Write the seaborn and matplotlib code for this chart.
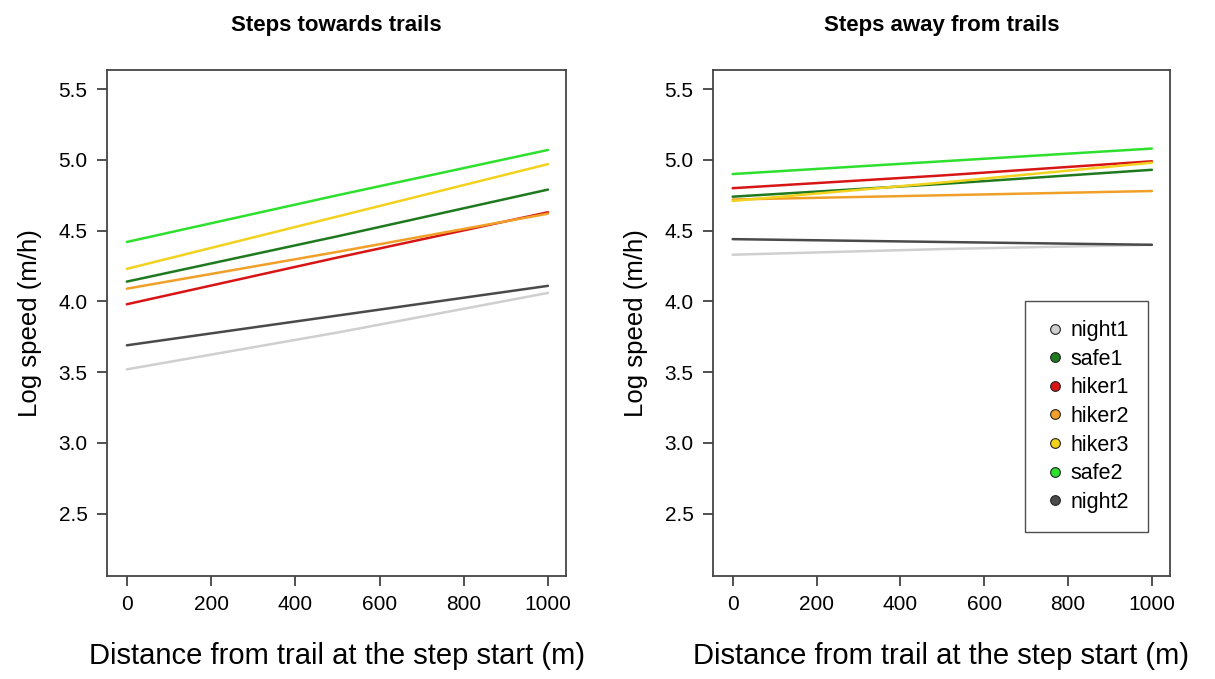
import numpy as np
import pandas as pd
import seaborn as sns
import matplotlib
matplotlib.use("Agg")
from matplotlib import pyplot as plt
from matplotlib.lines import Line2D

# Data (distance in m, log speed)
distance = [0, 500, 1000]
groups = ["night1", "safe1", "hiker1", "hiker2", "hiker3", "safe2", "night2"]
colors = ["#cfcfcf", "#1f7a1f", "#d81515", "#f0a028", "#f2d21e", "#2ee02e", "#4a4a4a"]

towards = {
    "night1": [3.52, 3.78, 4.06],
    "safe1": [4.14, 4.46, 4.79],
    "hiker1": [3.98, 4.31, 4.63],
    "hiker2": [4.09, 4.35, 4.62],
    "hiker3": [4.23, 4.60, 4.97],
    "safe2": [4.42, 4.75, 5.07],
    "night2": [3.69, 3.90, 4.11],
}
away = {
    "night1": [4.33, 4.37, 4.40],
    "safe1": [4.74, 4.83, 4.93],
    "hiker1": [4.80, 4.89, 4.99],
    "hiker2": [4.72, 4.75, 4.78],
    "hiker3": [4.71, 4.84, 4.98],
    "safe2": [4.90, 4.99, 5.08],
    "night2": [4.44, 4.42, 4.40],
}

titles = ["Steps towards trails", "Steps away from trails"]
x_ticks = [0, 200, 400, 600, 800, 1000]
y_ticks = [2.5, 3.0, 3.5, 4.0, 4.5, 5.0, 5.5]


def to_long(d):
    rows = []
    for g in groups:
        for x, y in zip(distance, d[g]):
            rows.append({"dist": x, "speed": y, "group": g})
    return pd.DataFrame(rows)


sns.set_style("white")
plt.rcParams["font.family"] = ["Liberation Sans", "DejaVu Sans"]
plt.rcParams["text.color"] = "black"
plt.rcParams["axes.labelcolor"] = "black"

fig = plt.figure(figsize=(12.15, 6.79), dpi=100)
ax1 = fig.add_axes([0.0881, 0.1517, 0.3778, 0.7452])
ax2 = fig.add_axes([0.5868, 0.1517, 0.3761, 0.7452])
palette = dict(zip(groups, colors))

for ax, data, title in zip([ax1, ax2], [towards, away], titles):
    df = to_long(data)
    sns.lineplot(data=df, x="dist", y="speed", hue="group", hue_order=groups,
                 palette=palette, linewidth=1.8, legend=False, ax=ax)
    ax.set_xlim(-47, 1043)
    ax.set_ylim(2.06, 5.635)
    ax.set_xticks(x_ticks)
    ax.set_yticks(y_ticks)
    ax.set_xticklabels([str(t) for t in x_ticks])
    ax.set_yticklabels([f"{t:.1f}" for t in y_ticks])
    ax.tick_params(axis="both", direction="out", length=7, width=1.2,
                   labelsize=15, colors="#333333", labelcolor="black", pad=7,
                   left=True, bottom=True)
    for s in ax.spines.values():
        s.set_visible(True)
        s.set_color("#444444")
        s.set_linewidth(1.3)
    ax.set_xlabel("Distance from trail at the step start (m)", fontsize=21, labelpad=20)
    ax.set_ylabel("Log speed (m/h)", fontsize=18.5, labelpad=12)
    ax.set_title(title, fontsize=16, fontweight="bold", pad=28)

handles = [Line2D([0], [0], marker="o", linestyle="none", markersize=7,
                  markerfacecolor=c, markeredgecolor="#222222", markeredgewidth=0.8)
           for c in colors]
leg = ax2.legend(handles, groups, loc="lower right", bbox_to_anchor=(0.952, 0.087),
                 borderaxespad=0, fontsize=15.5, frameon=True, fancybox=False,
                 edgecolor="#222222", handletextpad=0.2, labelspacing=0.35,
                 borderpad=0.9, handlelength=1.0)
leg.get_frame().set_linewidth(1.0)

fig.savefig("out.png", dpi=100)
